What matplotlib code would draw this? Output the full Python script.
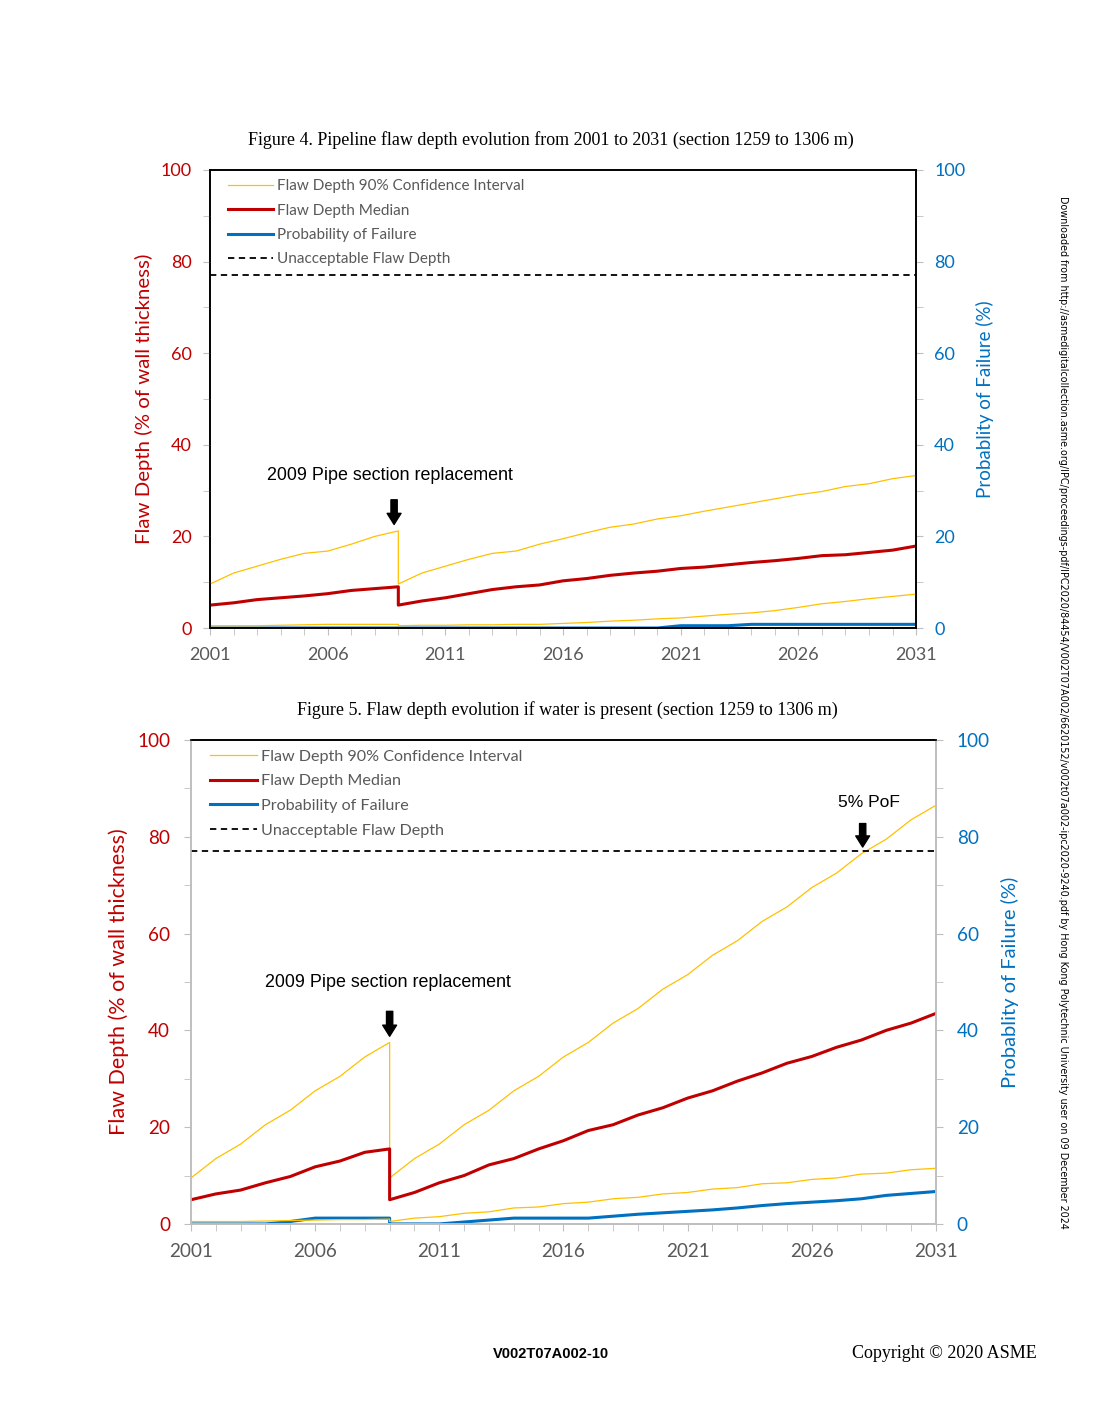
import numpy as np
import matplotlib.pyplot as plt

# x positions: 2009 appears twice (before / after pipe replacement)
years = [2001, 2002, 2003, 2004, 2005, 2006, 2007, 2008, 2009, 2009,
         2010, 2011, 2012, 2013, 2014, 2015, 2016, 2017, 2018, 2019,
         2020, 2021, 2022, 2023, 2024, 2025, 2026, 2027, 2028, 2029,
         2030, 2031]

# Figure 4 (no water)
f4_upper = [9.6, 12.0, 13.5, 15.0, 16.3, 16.8, 18.3, 20.0, 21.2, 9.6,
            12.0, 13.5, 15.0, 16.3, 16.8, 18.3, 19.5, 20.8, 22.0, 22.7,
            23.8, 24.5, 25.5, 26.4, 27.3, 28.2, 29.1, 29.8, 30.9, 31.5,
            32.6, 33.3]
f4_median = [5.0, 5.5, 6.2, 6.6, 7.0, 7.5, 8.2, 8.6, 9.0, 5.0,
             5.9, 6.6, 7.5, 8.4, 9.0, 9.4, 10.3, 10.8, 11.5, 12.0,
             12.4, 13.0, 13.3, 13.8, 14.3, 14.7, 15.2, 15.8, 16.0, 16.5,
             17.0, 17.9]
f4_lower = [0.5, 0.5, 0.5, 0.6, 0.7, 0.8, 0.8, 0.8, 0.8, 0.5,
            0.6, 0.6, 0.7, 0.7, 0.8, 0.8, 1.0, 1.2, 1.5, 1.7,
            2.0, 2.2, 2.6, 3.0, 3.3, 3.8, 4.5, 5.3, 5.8, 6.4,
            6.9, 7.4]
f4_pof = [0, 0, 0, 0, 0, 0, 0, 0, 0, 0,
          0, 0, 0, 0, 0, 0, 0, 0, 0, 0,
          0, 0.5, 0.5, 0.5, 0.8, 0.8, 0.8, 0.8, 0.8, 0.8,
          0.8, 0.8]

# Figure 5 (water present)
f5_upper = [9.5, 13.5, 16.5, 20.5, 23.5, 27.5, 30.5, 34.5, 37.5, 9.5,
            13.5, 16.5, 20.5, 23.5, 27.5, 30.5, 34.5, 37.5, 41.5, 44.5,
            48.5, 51.5, 55.5, 58.5, 62.5, 65.5, 69.5, 72.5, 76.5, 79.5,
            83.5, 86.5]
f5_median = [5.0, 6.2, 7.0, 8.5, 9.8, 11.8, 13.0, 14.8, 15.5, 5.0,
             6.5, 8.5, 10.0, 12.2, 13.5, 15.5, 17.2, 19.3, 20.5, 22.5,
             24.0, 26.0, 27.5, 29.5, 31.2, 33.2, 34.6, 36.5, 38.0, 40.0,
             41.5, 43.5]
f5_lower = [0.5, 0.5, 0.5, 0.6, 0.7, 0.8, 0.9, 0.9, 1.0, 0.5,
            1.2, 1.5, 2.2, 2.5, 3.3, 3.5, 4.2, 4.5, 5.2, 5.5,
            6.2, 6.5, 7.2, 7.5, 8.3, 8.5, 9.2, 9.5, 10.3, 10.5,
            11.2, 11.5]
f5_pof = [0, 0, 0, 0, 0.5, 1.2, 1.2, 1.2, 1.2, 0,
          0, 0, 0.4, 0.8, 1.2, 1.2, 1.2, 1.2, 1.6, 2.0,
          2.3, 2.6, 2.9, 3.3, 3.8, 4.2, 4.5, 4.8, 5.2, 5.9,
          6.3, 6.7]

unacceptable = 77
RED = '#C00000'
BLUE = '#0070C0'
GOLD = '#FFC000'
GRAY = '#595959'
TICKGRAY = '#BFBFBF'


def draw_chart(ax, upper, median, lower, pof, gray_frame, legend_gap,
               tick_fs, label_fs, right_label_fs, legend_fs, xpad, ypad, rpad):
    ax.plot(years, upper, color=GOLD, lw=0.9, label='Flaw Depth 90% Confidence Interval')
    ax.plot(years, lower, color=GOLD, lw=0.9)
    ax.plot(years, median, color=RED, lw=2.2, label='Flaw Depth Median')
    ax.axhline(unacceptable, color='black', lw=1.3, ls=(0, (3.5, 2.5)))
    ax.set_xlim(2001, 2031)
    ax.set_ylim(0, 100)
    ax.set_xticks(range(2001, 2032, 5))
    ax.set_xticks(range(2001, 2032), minor=True)
    ax.set_yticks(range(0, 101, 20))
    ax.set_yticks(range(0, 101, 10), minor=True)
    ax.tick_params(axis='x', which='both', colors=TICKGRAY, labelcolor=GRAY,
                   labelsize=tick_fs, length=5, pad=xpad)
    ax.tick_params(axis='y', which='both', colors=TICKGRAY, labelcolor=RED,
                   labelsize=tick_fs, length=5, pad=ypad)
    ax.set_ylabel('Flaw Depth (% of wall thickness)', color=RED, fontsize=label_fs, labelpad=6)

    ax2 = ax.twinx()
    ax2.plot(years, pof, color=BLUE, lw=2.2, label='Probability of Failure')
    ax2.set_ylim(0, 100)
    ax2.set_yticks(range(0, 101, 20))
    ax2.set_yticks(range(0, 101, 10), minor=True)
    ax2.tick_params(axis='y', which='both', colors=TICKGRAY, labelcolor=BLUE,
                    labelsize=tick_fs, length=5, pad=rpad)
    ax2.set_ylabel('Probablity of Failure (%)', color=BLUE, fontsize=right_label_fs, labelpad=8)

    for a in (ax, ax2):
        for s in a.spines.values():
            s.set_color('black')
            s.set_linewidth(1.2)
        if gray_frame:
            for k in ('left', 'right', 'bottom'):
                a.spines[k].set_color(TICKGRAY)
    ax.set_zorder(ax2.get_zorder() + 1)
    ax.patch.set_visible(False)

    h1, l1 = ax.get_legend_handles_labels()
    h2, l2 = ax2.get_legend_handles_labels()
    dash = plt.Line2D([], [], color='black', lw=1.3, ls=(0, (3.5, 2.5)))
    handles = [h1[0], h1[1], h2[0], dash]
    labels = [l1[0], l1[1], l2[0], 'Unacceptable Flaw Depth']
    ax.legend(handles, labels, loc='upper left', frameon=False, fontsize=legend_fs,
              labelcolor=GRAY, handlelength=2.9, handletextpad=0.25,
              labelspacing=legend_gap, borderaxespad=0.2,
              bbox_to_anchor=(0.013, 1.0))
    return ax2


ARROW = 'simple,head_width=1.0,head_length=0.8,tail_width=0.45'

plt.rcParams['font.family'] = ['Lato', 'DejaVu Sans']
fig = plt.figure(figsize=(11.02, 14.26), dpi=100)

ax4 = fig.add_axes([0.1906, 0.5596, 0.6407, 0.3212])
draw_chart(ax4, f4_upper, f4_median, f4_lower, f4_pof, False, 0.68,
           13, 14.7, 13.5, 11, 9, 8, 8)
ax4.text(2008.65, 33.4, '2009 Pipe section replacement', fontsize=12.9, ha='center',
         va='center', family='Liberation Sans')
ax4.annotate('', xy=(2008.82, 22.0), xytext=(2008.82, 28.6),
             arrowprops=dict(arrowstyle=ARROW, color='black'))

ax5 = fig.add_axes([0.1733, 0.1417, 0.6760, 0.3394])
draw_chart(ax5, f5_upper, f5_median, f5_lower, f5_pof, True, 0.64,
           13.6, 15.5, 14.5, 11.6, 9, 10, 10)
ax5.text(2008.95, 49.8, '2009 Pipe section replacement', fontsize=12.9, ha='center',
         va='center', family='Liberation Sans')
ax5.annotate('', xy=(2009, 38.2), xytext=(2009, 44.5),
             arrowprops=dict(arrowstyle=ARROW, color='black'))
ax5.text(2028.3, 85.5, '5% PoF', fontsize=12.5, ha='center', va='bottom',
         family='Liberation Sans')
ax5.annotate('', xy=(2028.05, 77.3), xytext=(2028.05, 83.3),
             arrowprops=dict(arrowstyle=ARROW, color='black'))

fig.text(551 / 1102, 1 - 140 / 1426,
         'Figure 4. Pipeline flaw depth evolution from 2001 to 2031 (section 1259 to 1306 m)',
         ha='center', va='center', fontsize=13, family='Liberation Serif')
fig.text(567 / 1102, 1 - 710 / 1426,
         'Figure 5. Flaw depth evolution if water is present (section 1259 to 1306 m)',
         ha='center', va='center', fontsize=13, family='Liberation Serif')
fig.text(1063 / 1102, 1 - 712 / 1426,
         'Downloaded from http://asmedigitalcollection.asme.org/IPC/proceedings-pdf/IPC2020/84454/'
         'V002T07A002/6620152/v002t07a002-ipc2020-9240.pdf by Hong Kong Polytechnic University '
         'user on 09 December 2024',
         rotation=-90, ha='center', va='center', fontsize=6.9, family='Liberation Sans Narrow')
fig.text(551 / 1102, 1 - 1354 / 1426, 'V002T07A002-10', ha='center', va='center',
         fontsize=10.5, fontweight='bold', family='Liberation Sans')
fig.text(1037 / 1102, 1 - 1354 / 1426, 'Copyright © 2020 ASME', ha='right', va='center',
         fontsize=13, family='Liberation Serif')

fig.savefig('out.png', dpi=100)
